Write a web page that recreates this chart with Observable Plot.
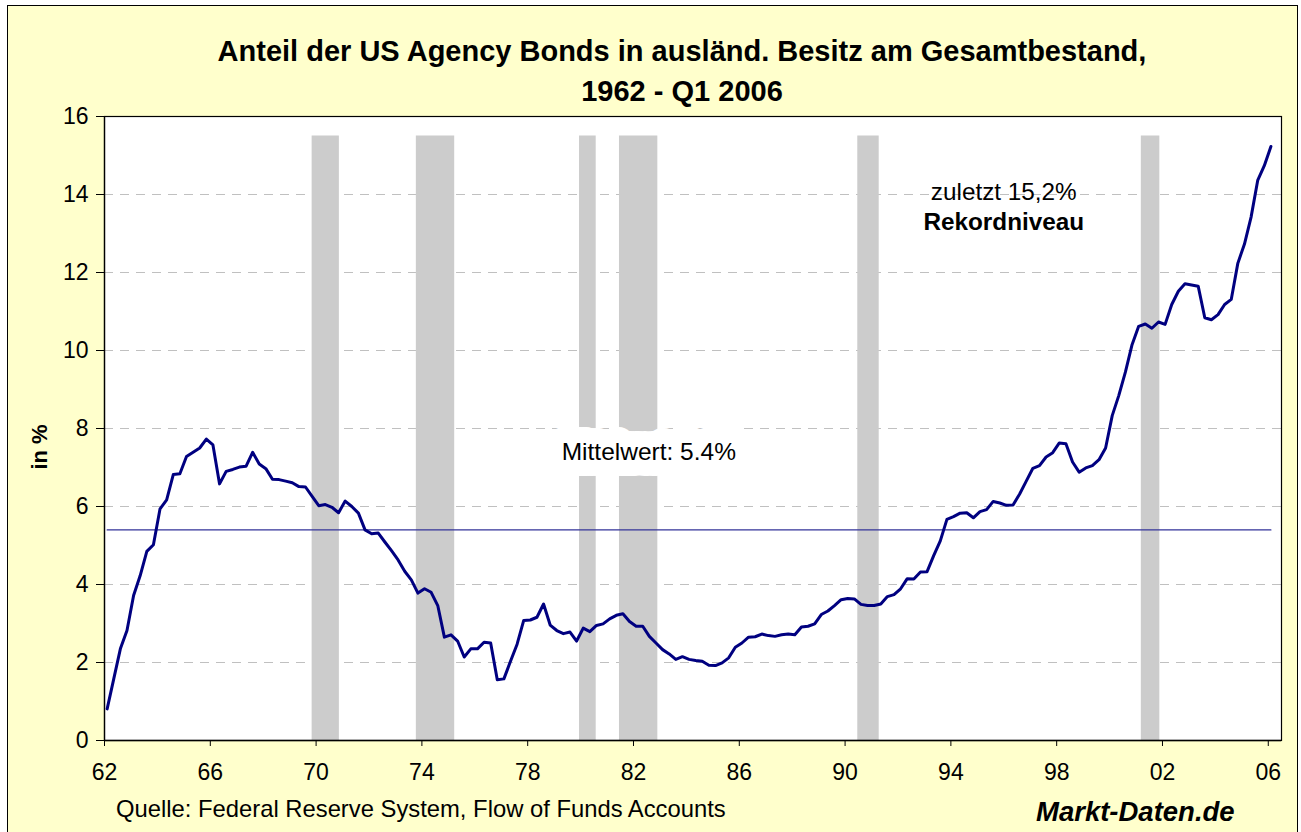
<!DOCTYPE html>
<html>
<head>
<meta charset="utf-8">
<script src="https://cdn.jsdelivr.net/npm/d3@7"></script>
<script src="https://cdn.jsdelivr.net/npm/@observablehq/plot@0.6"></script>
<style>
  html, body { margin: 0; padding: 0; background: #ffffff; width: 1301px; height: 832px; overflow: hidden; }
  #frame { position: absolute; left: 7px; top: 5px; width: 1291px; height: 840px; background: #FFFFCC; border: 1px solid #000; box-sizing: border-box; }
  #plot { position: absolute; left: 0; top: 0; }
  .t { position: absolute; font-family: "Liberation Sans", Arial, sans-serif; color: #000; white-space: nowrap; }
  #title { left: 682px; top: 31px; transform: translateX(-50%); text-align: center; font-weight: bold; font-size: 29px; line-height: 40px; }
  #ylab { left: 40px; top: 447px; transform: translate(-50%, -50%) rotate(-90deg); font-weight: bold; font-size: 22px; }
  #source { left: 116px; top: 795px; font-size: 23.8px; }
  #brand { left: 1036px; top: 796px; font-size: 27.5px; font-weight: bold; font-style: italic; }
</style>
</head>
<body>
<div id="frame"></div>
<div id="plot"></div>
<div class="t" id="title">Anteil der US Agency Bonds in ausländ. Besitz am Gesamtbestand,<br>1962 - Q1 2006</div>
<div class="t" id="ylab">in %</div>
<div class="t" id="source">Quelle: Federal Reserve System, Flow of Funds Accounts</div>
<div class="t" id="brand">Markt-Daten.de</div>
<script>
// Quarterly share (%) of US agency bonds held abroad, 1962Q1 .. 2006Q1
const startYear = 1962;
const anteil = [
  0.81, 1.58, 2.35, 2.82, 3.72, 4.23, 4.85, 5.02, 5.94, 6.17,
  6.82, 6.84, 7.28, 7.39, 7.50, 7.73, 7.58, 6.58, 6.90, 6.95,
  7.01, 7.03, 7.39, 7.09, 6.97, 6.70, 6.69, 6.65, 6.61, 6.51,
  6.50, 6.26, 6.02, 6.05, 5.98, 5.84, 6.14, 6.00, 5.83, 5.40,
  5.30, 5.32, 5.09, 4.87, 4.63, 4.34, 4.12, 3.78, 3.89, 3.80,
  3.46, 2.65, 2.71, 2.55, 2.14, 2.35, 2.35, 2.52, 2.50, 1.56,
  1.58, 2.03, 2.47, 3.08, 3.09, 3.16, 3.50, 2.96, 2.82, 2.74,
  2.78, 2.55, 2.88, 2.79, 2.95, 2.99, 3.12, 3.21, 3.25, 3.05,
  2.93, 2.93, 2.67, 2.50, 2.33, 2.22, 2.08, 2.15, 2.08, 2.05,
  2.03, 1.93, 1.92, 1.99, 2.12, 2.39, 2.50, 2.65, 2.66, 2.73,
  2.69, 2.67, 2.71, 2.73, 2.71, 2.91, 2.93, 2.99, 3.23, 3.32,
  3.46, 3.61, 3.64, 3.63, 3.49, 3.46, 3.46, 3.50, 3.69, 3.74,
  3.89, 4.15, 4.14, 4.32, 4.33, 4.74, 5.12, 5.67, 5.74, 5.83,
  5.84, 5.71, 5.87, 5.92, 6.13, 6.09, 6.03, 6.04, 6.32, 6.65,
  6.98, 7.05, 7.27, 7.38, 7.63, 7.61, 7.14, 6.88, 6.99, 7.05,
  7.20, 7.50, 8.33, 8.85, 9.45, 10.15, 10.62, 10.68, 10.57, 10.73,
  10.67, 11.18, 11.52, 11.71, 11.68, 11.65, 10.84, 10.79, 10.92, 11.18,
  11.31, 12.24, 12.73, 13.42, 14.36, 14.74, 15.23
];
const mittelwert = 5.4;
// US recessions (shaded)
const rezStart = [1969.85, 1973.79, 1979.96, 1981.47, 1990.48, 2001.20];
const rezEnd   = [1970.88, 1975.24, 1980.59, 1982.92, 1991.29, 2001.90];
const rezTop = 15.5;
const xTicks = [1962, 1966, 1970, 1974, 1978, 1982, 1986, 1990, 1994, 1998, 2002, 2006];
const yTicks = [0, 2, 4, 6, 8, 10, 12, 14, 16];
const noteLast = [{x: 1996.0, y: 14.07, text: "zuletzt 15,2%"}];
const noteRecord = [{x: 1996.0, y: 13.30, text: "Rekordniveau"}];
const mittelLabel = [{x: 1982.58, y: 7.39, text: "Mittelwert: 5.4%"}];

const series = anteil.map((v, i) => ({date: startYear + (i + 0.4) / 4, value: v}));
const meanSeries = series.map(d => ({date: d.date, value: mittelwert}));
const recessions = rezStart.map((s, i) => ({start: s, end: rezEnd[i], top: rezTop}));

const chart = Plot.plot({
  width: 1301,
  height: 832,
  marginLeft: 104,
  marginRight: 20,
  marginTop: 116,
  marginBottom: 92,
  style: {background: "transparent", fontFamily: "'Liberation Sans', Arial, sans-serif", fontSize: "23px", color: "#000", overflow: "visible"},
  x: {domain: [1962, 2006.5], ticks: xTicks, tickFormat: d => String(d).slice(2), tickSize: 6, tickPadding: 17, label: null},
  y: {domain: [0, 16], ticks: yTicks, tickSize: 8, tickPadding: 8, label: null},
  marks: [
    Plot.frame({fill: "white", stroke: "none"}),
    Plot.ruleY(yTicks.filter(t => t > 0 && t < 16), {stroke: "#c0c0c0", strokeWidth: 1.2, strokeDasharray: "9,7"}),
    Plot.rectY(recessions, {x1: "start", x2: "end", y1: 0, y2: "top", fill: "#cccccc"}),
    Plot.line(meanSeries, {x: "date", y: "value", stroke: "#333399", strokeWidth: 1.2}),
    Plot.line(series, {x: "date", y: "value", stroke: "#000080", strokeWidth: 3}),
    Plot.text(mittelLabel, {x: "x", y: "y", text: "text", fill: "#000", stroke: "white", strokeWidth: 32, strokeLinejoin: "round", fontSize: 24.5}),
    Plot.text(noteLast, {x: "x", y: "y", text: "text", fill: "#000", fontSize: 24.3}),
    Plot.text(noteRecord, {x: "x", y: "y", text: "text", fill: "#000", fontWeight: "bold", fontSize: 24.3}),
    Plot.ruleX([1962], {stroke: "#000", strokeWidth: 1.3}),
    Plot.ruleY([0], {stroke: "#000", strokeWidth: 1.3}),
    Plot.frame({stroke: "#000", strokeWidth: 1.2})
  ]
});
document.getElementById("plot").appendChild(chart);
</script>
</body>
</html>
